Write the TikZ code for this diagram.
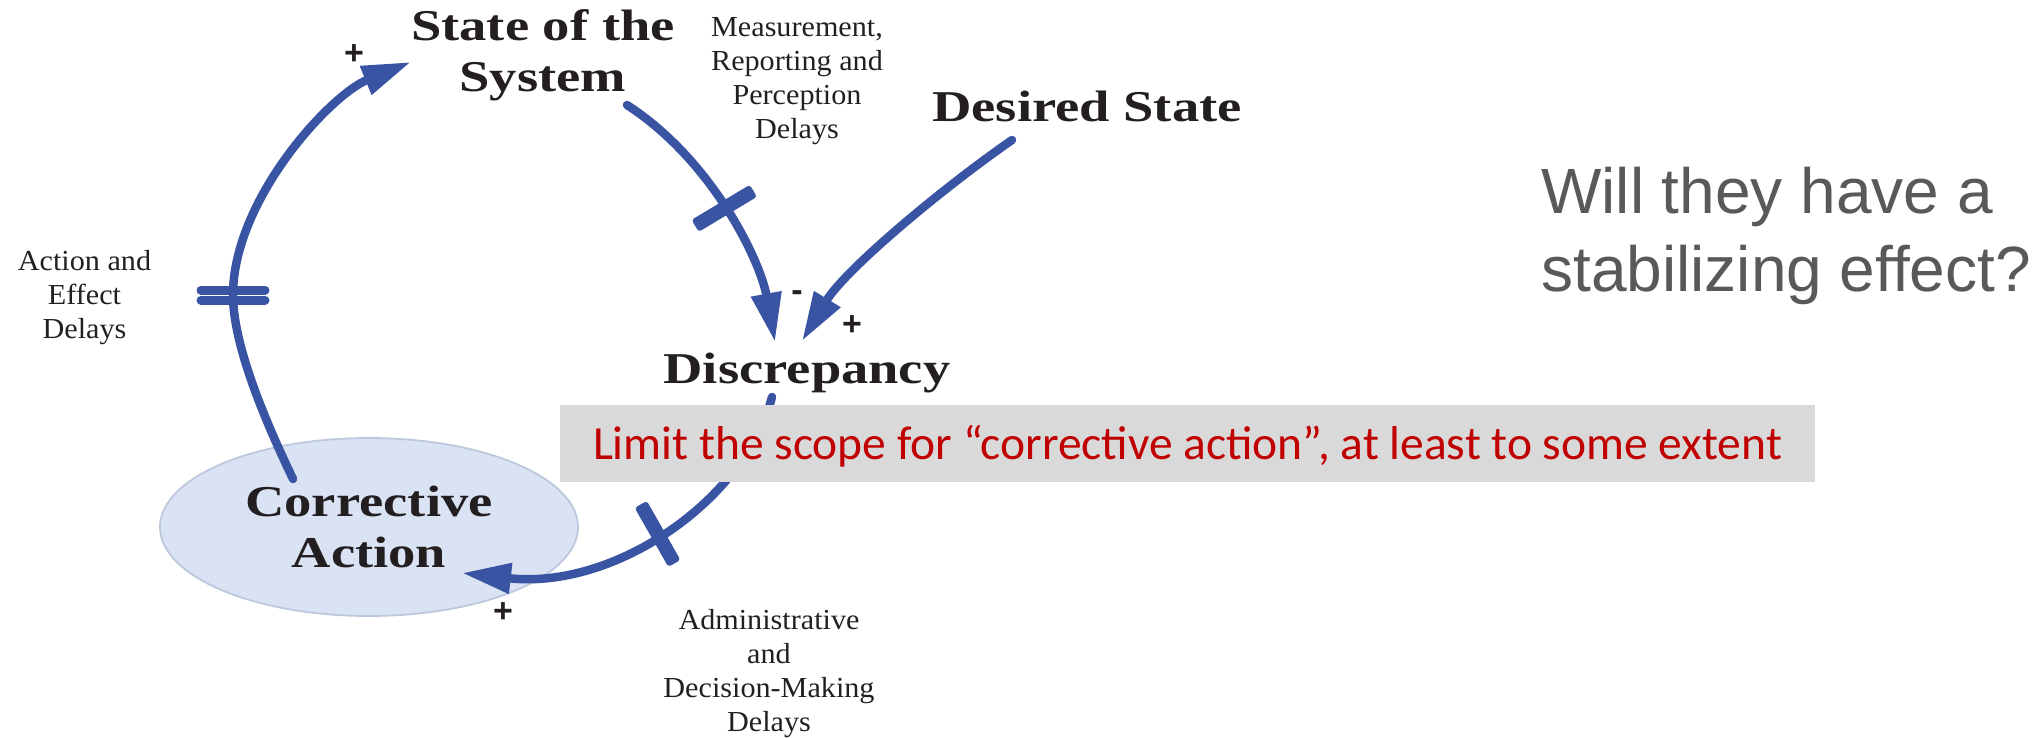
\documentclass[tikz,border=0pt]{standalone}
\usepackage{fontspec}
\setmainfont{Liberation Serif}
\newfontfamily\titlefont[FakeStretch=1.24]{Liberation Serif}
\newfontfamily\notefont[FakeStretch=1.04]{Liberation Serif}
\newfontfamily\calib{Carlito}
\newfontfamily\arialfont{Liberation Sans}
\usetikzlibrary{arrows.meta,shapes.geometric}
\definecolor{cldblue}{RGB}{58,84,164}
\definecolor{ink}{RGB}{35,31,32}
\definecolor{ellfill}{RGB}{218,227,243}
\definecolor{ellline}{RGB}{188,200,220}
\definecolor{boxgray}{RGB}{217,217,217}
\definecolor{limred}{RGB}{192,0,0}
\definecolor{qgray}{RGB}{89,89,89}
\begin{document}
\begin{tikzpicture}[x=1pt,y=-1pt,
  title/.style={font=\titlefont\bfseries\fontsize{44}{51}\selectfont, text=ink, align=center, inner sep=0pt},
  note/.style={font=\notefont\fontsize{29}{34}\selectfont, text=ink, align=center, inner sep=0pt},
  sign/.style={font=\arialfont\bfseries\fontsize{34}{34}\selectfont, text=ink, inner sep=0pt},
  question/.style={font=\arialfont\fontsize{64}{78}\selectfont, text=qgray, align=left, inner sep=0pt},
  ellnode/.style={ellipse, draw=ellline, line width=1.8pt, fill=ellfill, minimum width=418pt, minimum height=178pt, inner sep=0pt, font=\titlefont\bfseries\fontsize{44}{51}\selectfont, text=ink, align=center},
  link/.style={draw=cldblue, line width=8.5pt, line cap=round, -{Triangle[length=49pt,width=29pt]}},
  tickbar/.style={fill=cldblue, draw=none, minimum width=14pt, minimum height=68pt, inner sep=0pt, rounded corners=3pt},
  delaybar/.style={draw=cldblue, line width=9pt, line cap=round},
  limitbox/.style={fill=boxgray, font=\calib\fontsize{47.5}{48}\selectfont, text=limred, minimum width=1255pt, minimum height=77pt, inner sep=0pt, text height=31pt, text depth=0pt}
]
\useasboundingbox (0,0) rectangle (2037,738);

% nodes (anchor=base is the baseline of the last line)
\node[ellnode] (corr) at (369,527) {Corrective\\Action};
\node[title, anchor=base] (state) at (543,92) {State of the\\System};
\node[title, anchor=base] (desired) at (1087,122) {Desired State};
\node[title, anchor=base] (disc) at (807,383) {Discrepancy};
\node[note, anchor=base] (measure) at (797,139) {Measurement,\\Reporting and\\Perception\\Delays};
\node[note, anchor=base] (actdelay) at (84.5,338) {Action and\\Effect\\Delays};
\node[note, anchor=base] (admdelay) at (769,731) {Administrative\\and\\Decision-Making\\Delays};
\node[question, anchor=base west] (question) at (1541,291) {Will they have a\\stabilizing effect?};

\node[sign] (plusA) at (354,55) {+};
\node[sign] (minusB) at (797,296) {-};
\node[sign] (plusC) at (852,326) {+};
\node[sign] (plusD) at (503,613) {+};

% connector ends
\coordinate (corr-out) at (293,479);
\coordinate (act-delay) at (233,295);
\coordinate (state-in) at (411,62);
\coordinate (state-out) at (627,105);
\coordinate (disc-in1) at (775,342);
\coordinate (disc-in2) at (802,341);
\coordinate (desired-out) at (1012,140);
\coordinate (disc-out) at (772,397);
\coordinate (corr-in) at (462,573);

% connectors
\draw[link] (corr-out) .. controls (272,435) and (233,350) .. (act-delay) .. controls (233,200) and (330,95) .. (state-in);
\draw[delaybar] ([xshift=-32pt,yshift=5pt]act-delay) -- ([xshift=32pt,yshift=5pt]act-delay);
\draw[delaybar] ([xshift=-32pt,yshift=-5pt]act-delay) -- ([xshift=32pt,yshift=-5pt]act-delay);

\draw[link] (state-out) .. controls (712,160) and (760,260) .. (disc-in1) node[tickbar, pos=0.48, sloped] (tick1) {};
\draw[link] (desired-out) .. controls (940,190) and (845,270) .. (disc-in2);
\draw[link] (disc-out) .. controls (745,500) and (615,590) .. (corr-in) node[tickbar, pos=0.52, sloped] (tick2) {};

% overlay box
\node[limitbox] (limit) at (1187.5,443.5) {Limit the scope for “corrective action”, at least to some extent};
\end{tikzpicture}
\end{document}
